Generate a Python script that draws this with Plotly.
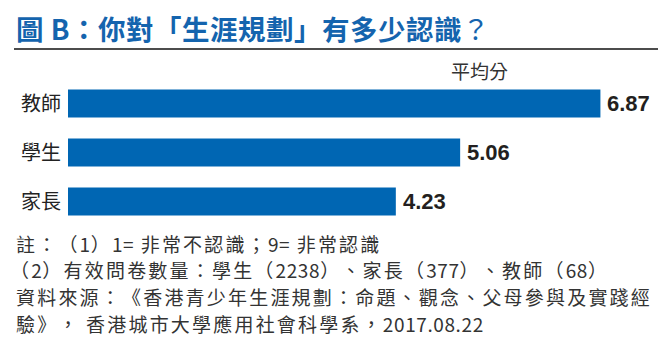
import re
import plotly.graph_objects as go

categories = ["家長", "學生", "教師"]
values = [4.23, 5.06, 6.87]
value_labels = ["4.23", "5.06", "6.87"]

title_text = "<b>圖 B：你對「生涯規劃」有多少認識</b>？"
unit_text = "平均分"
notes = [
    "註：（1）1= 非常不認識；9= 非常認識",
    "（2）有效問卷數量：學生（2238）、家長（377）、教師（68）",
    "資料來源：《香港青少年生涯規劃：命題、觀念、父母參與及實踐經",
    "驗》， 香港城市大學應用社會科學系，2017.08.22",
]

W, H = 669, 351
ML, MR, MT, MB = 68, 11, 79, 125
PW = W - ML - MR
PH = H - MT - MB


def px_x(px):
    return (px - ML) / PW


def px_y(py):
    return (H - MB - py) / PH


CJK = "Noto Sans CJK TC, Noto Sans CJK SC, sans-serif"
BLUE = "#0066b3"
NOTE_STYLE = "letter-spacing:2.2px;text-spacing-trim:space-all;font-kerning:none"


def style_note(t):
    # tighter tracking for Latin digit runs, wider tracking for CJK text
    t = re.sub(r"([0-9.=]+)", r'<span style="letter-spacing:0.6px">\1</span>', t)
    return '<span style="%s">%s</span>' % (NOTE_STYLE, t)


fig = go.Figure()
fig.add_trace(go.Bar(
    x=values, y=categories, orientation="h",
    marker=dict(color=BLUE, line=dict(width=0)),
    hoverinfo="skip",
))

for v, c, t in zip(values, categories, value_labels):
    fig.add_annotation(x=v, y=c, xref="x", yref="y", text=t, showarrow=False,
                       xanchor="left", yanchor="middle", xshift=5,
                       font=dict(family="Liberation Sans, Arial, sans-serif", size=22,
                                 color="#231f20", weight="bold"))

fig.add_annotation(x=px_x(479), y=px_y(71), xref="paper", yref="paper", text=unit_text,
                   showarrow=False, xanchor="center", yanchor="middle",
                   font=dict(family=CJK, size=19, color="#333333"))

note_y = [243, 269, 296, 323]
note_x = [14, 8, 14, 14]
for t, yy, xx in zip(notes, note_y, note_x):
    fig.add_annotation(x=px_x(xx), y=px_y(yy), xref="paper", yref="paper",
                       text=style_note(t),
                       showarrow=False, xanchor="left", yanchor="middle",
                       font=dict(family=CJK, size=19, color="#333333"))

fig.add_shape(type="line", xref="paper", yref="paper",
              x0=px_x(14), x1=px_x(658), y0=px_y(49), y1=px_y(49),
              line=dict(color="#111111", width=1.5))

fig.update_layout(
    width=W, height=H,
    margin=dict(l=ML, r=MR, t=MT, b=MB, pad=0),
    paper_bgcolor="white", plot_bgcolor="white",
    showlegend=False,
    bargap=0.43,
    title=dict(text='<span style="letter-spacing:0.5px;text-spacing-trim:space-all">%s</span>' % title_text,
               xref="container", yref="container",
               x=16 / W, y=1 - 30 / H, xanchor="left", yanchor="middle",
               font=dict(family=CJK, size=27.5, color="#1464ae")),
    xaxis=dict(range=[0, PW / 77.5], visible=False, fixedrange=True),
    yaxis=dict(categoryorder="array", categoryarray=categories,
               range=[-0.5, 2.5], showgrid=False, zeroline=False, showline=False,
               ticks="", ticklabelstandoff=6,
               tickfont=dict(family=CJK, size=20, color="#222222"), fixedrange=True),
)

fig.write_html("out.html")
